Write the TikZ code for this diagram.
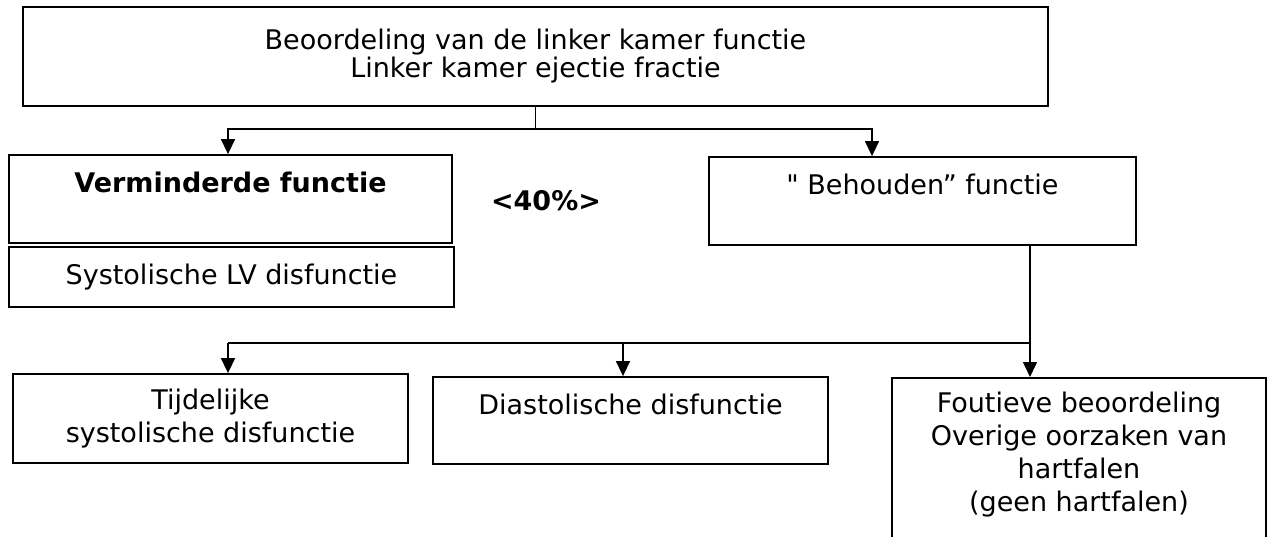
\documentclass[tikz,border=0pt]{standalone}
\usepackage{fontspec}
\setmainfont{DejaVu Sans}
\newfontfamily\quotefont{DejaVu Sans}
\usetikzlibrary{arrows.meta}
\tikzset{
  box/.style={draw=black, line width=1.8pt, align=center, inner sep=0pt,
    font=\fontsize{27}{33}\selectfont},
  link/.style={draw=black, line width=1.5pt},
  arr/.style={link, -{Triangle[width=14pt,length=15pt]}},
}

\begin{document}
\begin{tikzpicture}[x=1pt,y=-1pt]
  \useasboundingbox (0,0) rectangle (1268,537);
  \clip (0,0) rectangle (1268,537);
  % boxes
  \node[box, minimum width=1025pt, minimum height=99pt,
    font=\fontsize{27}{28}\selectfont] (lvf) at (535.5,56.5)
    {Beoordeling van de linker kamer functie\\Linker kamer ejectie fractie};
  \node[box, minimum width=443pt, minimum height=88pt] (verm) at (230.5,199)
    {\textbf{Verminderde functie}\\[-10pt]\strut};
  \node[box, minimum width=445pt, minimum height=60pt] (syst) at (231.5,277)
    {Systolische LV disfunctie};
  \node[font=\fontsize{27}{33}\selectfont\bfseries] (pct) at (546,201) {<40\%>};
  \node[box, minimum width=427pt, minimum height=88pt] (beh) at (922.5,201)
    {{\quotefont"} Behouden” functie\\[-10pt]\strut};
  \node[box, minimum width=395pt, minimum height=89pt] (tijd) at (210.5,418.5)
    {Tijdelijke\\systolische disfunctie};
  \node[box, minimum width=395pt, minimum height=87pt] (dias) at (630.5,420.5)
    {Diastolische disfunctie\\[-10pt]\strut};
  \node[box, minimum width=374pt, minimum height=190pt, anchor=north] (fout) at (1079,377)
    {Foutieve beoordeling\\Overige oorzaken van\\hartfalen\\(geen hartfalen)\\\strut};
  % connectors
  \coordinate (s1) at (228,129);
  \coordinate (s2) at (872,129);
  \draw[arr] (lvf.south) |- (s1) -- (verm.north -| s1);
  \draw[arr] (lvf.south) |- (s2) -- (beh.north -| s2);
  \coordinate (t1) at (228,343);
  \coordinate (t2) at (623,343);
  \coordinate (t3) at (1030,343);
  \draw[link] (beh.south -| t3) -- (t3) -- (t1);
  \draw[arr] (t1) -- (tijd.north -| t1);
  \draw[arr] (t2) -- (dias.north -| t2);
  \draw[arr] (t3) -- (fout.north -| t3);
\end{tikzpicture}
\end{document}
